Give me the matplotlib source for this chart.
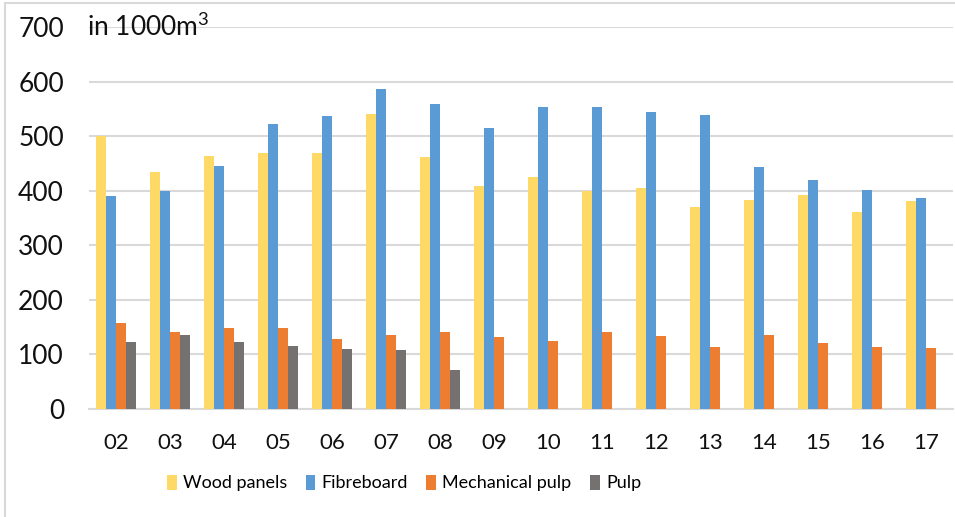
import matplotlib
matplotlib.use("Agg")
import matplotlib.pyplot as plt
import numpy as np
from matplotlib.patches import Rectangle

plt.rcParams['font.family'] = ['Lato', 'DejaVu Sans']
plt.rcParams['mathtext.fontset'] = 'custom'
plt.rcParams['mathtext.rm'] = 'Lato'
plt.rcParams['mathtext.it'] = 'Lato'

years = ["02", "03", "04", "05", "06", "07", "08", "09", "10", "11", "12", "13", "14", "15", "16", "17"]
wood_panels = [500, 435, 463, 469, 469, 540, 462, 409, 426, 400, 405, 370, 383, 392, 361, 382]
fibreboard = [390, 400, 445, 523, 536, 586, 559, 515, 553, 553, 544, 539, 443, 420, 401, 387]
mechanical_pulp = [157, 141, 148, 148, 128, 135, 141, 132, 124, 142, 134, 113, 136, 121, 113, 111]
pulp = [123, 136, 123, 116, 110, 109, 72, np.nan, np.nan, np.nan, np.nan, np.nan, np.nan, np.nan, np.nan, np.nan]

series = [("Wood panels", wood_panels, "#FFD966"),
          ("Fibreboard", fibreboard, "#5B9BD5"),
          ("Mechanical pulp", mechanical_pulp, "#ED7D31"),
          ("Pulp", pulp, "#767171")]

W, H = 955, 517
fig = plt.figure(figsize=(W / 100, H / 100), dpi=100)
ax = fig.add_axes([89 / W, 1 - 409 / H, 864 / W, (409 - 27) / H])

x = np.arange(len(years))
bw = 0.185
handles = []
for i, (name, vals, col) in enumerate(series):
    b = ax.bar(x + (i - 1.5) * bw, vals, width=bw, color=col, label=name, zorder=3)
    handles.append(b)

ax.set_xlim(-0.5, len(years) - 0.5)
ax.set_ylim(0, 700)
ax.set_yticks(range(0, 701, 100))
ax.set_xticks(x)
ax.set_xticklabels(years)
ax.yaxis.grid(True, color="#D9D9D9", linewidth=1.5, zorder=0)
ax.set_axisbelow(True)
for s in ["top", "right", "left"]:
    ax.spines[s].set_visible(False)
ax.spines["bottom"].set_color("#D9D9D9")
ax.spines["bottom"].set_linewidth(1.5)
ax.tick_params(axis="both", length=0)
ax.tick_params(axis="y", labelsize=19, pad=18, labelcolor="#111111")
ax.tick_params(axis="x", labelsize=16, pad=17, labelcolor="#111111")

fig.text(87 / W, 1 - 27 / H, r"in 1000m$^{3}$", fontsize=19, va="center", ha="left", color="#111111")

leg = fig.legend(handles=handles, loc="center", bbox_to_anchor=(404 / W, 1 - 483 / H),
                 ncol=4, frameon=False, fontsize=13, handlelength=0.55, handleheight=0.9,
                 handletextpad=0.35, columnspacing=1.0)

fig.patches.append(Rectangle((5 / W, -0.1), 2.0, 1 - 3 / H + 0.1, transform=fig.transFigure,
                             fill=False, edgecolor="#D9D9D9", linewidth=1.5))

fig.savefig("out.png", dpi=100)
